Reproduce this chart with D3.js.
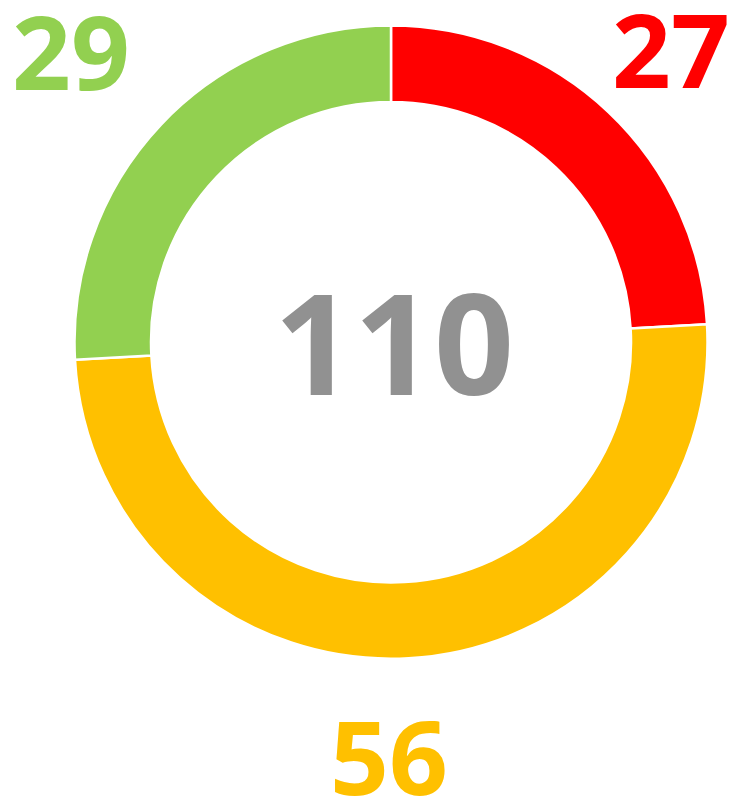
<!DOCTYPE html>
<html>
<head>
<meta charset="utf-8">
<script src="https://cdn.jsdelivr.net/npm/d3@7"></script>
<style>
  body { margin: 0; background: #fff; }
  svg text { font-family: "Open Sans", sans-serif; font-weight: bold; }
</style>
</head>
<body>
<svg id="chart" width="730" height="803"></svg>
<script>
// slice data, clockwise from 12 o'clock
const categories = ["red", "yellow", "green"];
const values = [27, 56, 29];
const colors = ["#FF0000", "#FFC000", "#92D050"];
const totalLabel = "110";

let svg = d3.select("#chart");
let g = svg.append("g").attr("transform", "translate(391,342)");

let pie = d3.pie().sort(null).value(d => d);
let arc = d3.arc().innerRadius(240).outerRadius(316.5);

g.selectAll("path")
    .data(pie(values))
    .enter().append("path")
    .attr("d", arc)
    .attr("fill", (d, i) => colors[i])
    .attr("stroke", "#fff")
    .attr("stroke-width", 2.5);

// big total in the middle
g.append("text")
    .attr("x", 3)
    .attr("y", 53)
    .attr("text-anchor", "middle")
    .attr("font-size", 140)
    .attr("fill", "#919191")
    .text(totalLabel);

// value labels, placed around the ring
let labelPos = [[671, 88], [389, 795], [71, 90]];
svg.selectAll("text.val")
    .data(values)
    .enter().append("text")
    .attr("class", "val")
    .attr("x", (d, i) => labelPos[i][0])
    .attr("y", (d, i) => labelPos[i][1])
    .attr("text-anchor", "middle")
    .attr("font-size", 103)
    .attr("fill", (d, i) => colors[i])
    .text(d => d);
</script>
</body>
</html>
